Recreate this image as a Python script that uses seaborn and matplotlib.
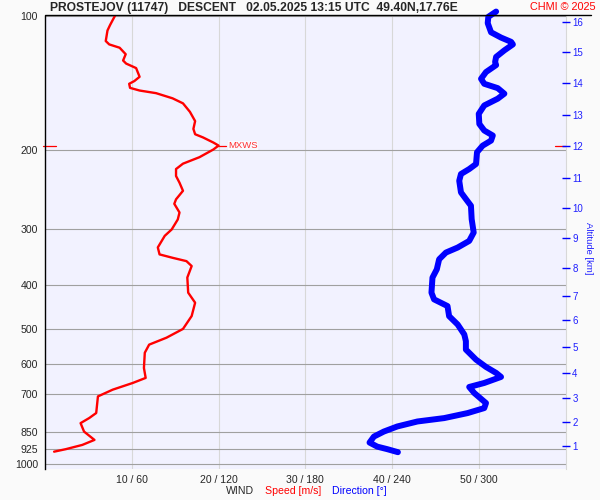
import numpy as np
import pandas as pd
import seaborn as sns
import matplotlib.pyplot as plt
import matplotlib.transforms as mtransforms
from matplotlib.lines import Line2D

sns.set_style('white')
plt.rcParams['font.family'] = ['Liberation Sans', 'DejaVu Sans']

# wind speed profile (hPa, m/s)
speed_p = [99, 105, 108, 114, 116, 118, 122, 126, 128, 131, 137, 140, 142, 145, 147, 149,
           153, 157, 164, 172, 179, 184, 187, 192, 195, 199, 207, 214, 220, 228, 236, 246,
           257, 263, 275, 285, 300, 310, 329, 341, 347, 353, 362, 384, 415, 437, 468, 500,
           523, 542, 565, 611, 643, 660, 683, 707, 770, 790, 811, 847, 884, 907, 927, 939]
speed = [8.2, 7.5, 7.2, 7.0, 7.4, 8.6, 9.3, 9.0, 9.35, 10.5, 10.9, 10.3, 9.7, 9.8, 10.9, 12.8,
         14.7, 15.9, 16.7, 17.3, 17.1, 17.3, 18.2, 19.4, 20.0, 19.4, 17.8, 15.9, 15.1, 15.1, 15.5, 15.9,
         15.1, 14.9, 15.5, 15.3, 14.6, 13.8, 13.0, 13.2, 14.7, 16.3, 16.9, 16.4, 16.5, 17.3, 16.9, 15.9,
         14.0, 12.0, 11.5, 11.4, 11.6, 10.1, 7.8, 6.1, 5.9, 5.1, 4.1, 4.5, 5.7, 4.3, 2.4, 1.05]

# wind direction profile (hPa, deg)
dir_p = [98, 100.7, 104, 109, 112, 114.5, 116, 119.6, 123.7, 127, 129, 133.7, 138.4, 142, 145.2,
         149.4, 153.3, 158.7, 165.7, 174.5, 180.5, 185.2, 190.1, 195.1, 201.8, 214.4, 220, 225.7,
         233.6, 248, 256.6, 265.6, 284.5, 304.8, 318.2, 329.2, 337.8, 349.7, 368.1, 384.2, 415,
         429.6, 444.6, 468.2, 488.7, 514.4, 532.5, 555.9, 585.3, 607.7, 626.7, 639.7, 659.9, 673.6,
         694.9, 731.6, 750.7, 770.2, 790.3, 804.2, 825, 846.8, 869, 896.1, 915, 927.1, 941.5]
direction = [311.9, 306.5, 306.1, 308.4, 315.3, 322.3, 323.5, 317.6, 311.9, 311.2, 311.9, 304.9,
             301.5, 303.7, 313.0, 317.6, 313.0, 303.7, 299.9, 300.3, 303.7, 309.6, 308.4, 302.6,
             298.7, 298.0, 293.3, 287.6, 286.4, 287.6, 291.0, 294.5, 295.0, 296.4, 293.3, 285.3,
             277.2, 272.5, 270.9, 267.9, 267.2, 269.0, 278.3, 279.4, 285.3, 289.9, 291.0, 291.0,
             298.0, 304.9, 311.9, 315.3, 303.7, 293.3, 296.8, 304.9, 303.7, 292.2, 276.0, 257.5,
             243.6, 234.3, 227.4, 224.4, 229.7, 236.7, 244.0]

p_ticks = [100, 200, 300, 400, 500, 600, 700, 850, 925, 1000]
x_ticks = [10, 20, 30, 40, 50]
x_labels = ['10 / 60', '20 / 120', '30 / 180', '40 / 240', '50 / 300']
alt_km = list(range(1, 17))
alt_p = [911.7, 806.6, 713.0, 626.6, 549.3, 478.6, 422.3, 364.9, 312.7, 269.2,
         230.4, 195.6, 166.3, 141.4, 120.6, 103.3]

speed_df = pd.DataFrame({'pressure': speed_p, 'speed': speed})
dir_df = pd.DataFrame({'pressure': dir_p, 'direction': direction})

fig = plt.figure(figsize=(6, 5), dpi=100, facecolor='#fafafa')
ax = fig.add_axes([0.075, 0.0614, 0.8678, 0.9076])
ax.set_facecolor('#f2f2ff')
ax.set_yscale('log')
ax.set_ylim(1028, 100)
ax.set_xlim(0, 60)

sns.lineplot(data=speed_df, x='speed', y='pressure', sort=False, estimator=None,
             color='#ff0000', lw=1.7, ax=ax, zorder=5)
for line in ax.get_lines():
    line.set_solid_joinstyle('round')
    line.set_solid_capstyle('round')

ax.set_yticks(p_ticks, labels=[str(p) for p in p_ticks])
ax.minorticks_off()
ax.set_xticks(x_ticks, labels=x_labels)
ax.tick_params(axis='both', length=0, labelsize=7.6)
ax.tick_params(axis='y', pad=5)
ax.tick_params(axis='x', pad=4)
ax.grid(axis='x', color='#d8d8d8', lw=0.8)
ax.grid(axis='y', color='#a0a0a0', lw=0.8)
ax.set_xlabel('')
ax.set_ylabel('')
for s in ['top', 'bottom']:
    ax.spines[s].set_visible(False)
ax.spines['left'].set_color('black')
ax.spines['left'].set_linewidth(1.0)
ax.spines['right'].set_color('#d8d8d8')
ax.spines['right'].set_linewidth(0.8)

# max wind marker
i_max = int(np.argmax(speed))
vmax, pmax = speed[i_max], speed_p[i_max]
ax.plot([vmax - 0.2, vmax + 0.9], [pmax, pmax], color='#ff0000', lw=0.9, zorder=6)
ax.text(vmax + 1.1, pmax, 'MXWS', color='#ff3030', fontsize=6.8, va='center', ha='left',
        bbox=dict(facecolor='#fafaff', edgecolor='none', pad=0.3), zorder=6)
trans = mtransforms.blended_transform_factory(ax.transAxes, ax.transData)
ax.plot([-0.0033, 0.0205], [pmax, pmax], transform=trans, color='#ff0000', lw=0.9, clip_on=False)
ax.plot([0.979, 1.0006], [pmax, pmax], transform=trans, color='#ff0000', lw=0.9, clip_on=False)

# direction on its own x scale
ax_dir = ax.twiny()
ax_dir.set_xlim(0, 360)
sns.lineplot(data=dir_df, x='direction', y='pressure', sort=False, estimator=None,
             color='#0000ff', lw=4.3, ax=ax_dir)
for line in ax_dir.get_lines():
    line.set_solid_capstyle('round')
    line.set_solid_joinstyle('round')
    line.set_clip_on(False)
ax_dir.set_ylim(1028, 100)
ax_dir.xaxis.set_visible(False)
ax_dir.set_xlabel('')
for s in ax_dir.spines.values():
    s.set_visible(False)

# altitude axis
ax_alt = ax.twinx()
ax_alt.set_yscale('log')
ax_alt.set_ylim(1028, 100)
ax_alt.set_yticks(alt_p, labels=[str(k) for k in alt_km])
ax_alt.minorticks_off()
ax_alt.tick_params(axis='y', colors='#0000ff', labelcolor='#2020ff', direction='inout',
                   length=5.5, width=1, labelsize=7, pad=2)
for s in ax_alt.spines.values():
    s.set_visible(False)
fig.text(589 / 600, 1 - 247.7 / 500, 'Altitude [km]', color='#2020ff', fontsize=6.8,
         rotation=270, ha='center', va='center')

# header
fig.add_artist(Line2D([45 / 600, 591 / 600], [1 - 15 / 500, 1 - 15 / 500], color='black', lw=1))
fig.text(50 / 600, 1 - 8.5 / 500,
         'PROSTEJOV (11747)   DESCENT   02.05.2025 13:15 UTC  49.40N,17.76E',
         fontsize=8.7, fontweight='bold', ha='left', va='center')
fig.text(596 / 600, 1 - 6.5 / 500, 'CHMI © 2025', color='#ff0000', fontsize=7.8,
         ha='right', va='center')

# bottom axis label
fig.text(225.8 / 600, 1 - 491 / 500, 'WIND', fontsize=7.6, va='center', ha='left')
fig.text(264.8 / 600, 1 - 491 / 500, 'Speed [m/s]', color='#ff0000', fontsize=7.6,
         va='center', ha='left')
fig.text(332.2 / 600, 1 - 491 / 500, 'Direction [°]', color='#0000ff', fontsize=7.6,
         va='center', ha='left')

fig.savefig('out.png', dpi=100, facecolor=fig.get_facecolor())
